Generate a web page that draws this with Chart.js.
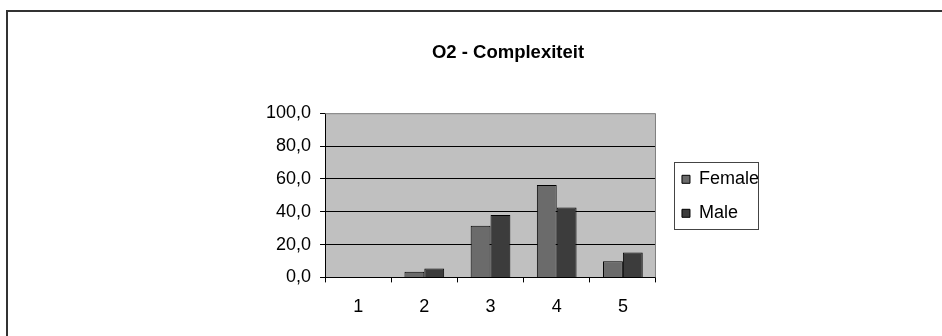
<!DOCTYPE html>
<html>
<head>
<meta charset="utf-8">
<script src="https://cdn.jsdelivr.net/npm/chart.js@4"></script>
<style>
  html, body { margin: 0; padding: 0; background: #fff; }
  #wrap { width: 942px; height: 336px; position: relative; }
</style>
</head>
<body>
<div id="wrap"><canvas id="chart" width="942" height="336"></canvas></div>
<script>
const categories = ['1', '2', '3', '4', '5'];
const femaleValues = [0, 3.4, 31.5, 56.2, 9.9];
const maleValues = [0, 5.4, 38.0, 42.5, 15.2];
const yTicks = [0, 20, 40, 60, 80, 100];

const FONT = "'Liberation Sans', Arial, sans-serif";

// outer frame, plot background, legend box placement and border
const framePlugin = {
  id: 'frame',
  afterLayout(chart) {
    const legend = chart.legend;
    const area = chart.chartArea;
    if (!legend) return;
    // legend sits a little right of the plot, centred on it
    legend.left = area.right + 10;
    legend.right = legend.left + legend.width;
    legend.top = area.top + 1;
    legend.bottom = area.bottom + 1;
    legend.height = legend.bottom - legend.top;
  },
  beforeDraw(chart) {
    const { ctx, chartArea } = chart;
    ctx.save();
    ctx.fillStyle = '#c0c0c0';
    ctx.fillRect(chartArea.left, chartArea.top, chartArea.right - chartArea.left, chartArea.bottom - chartArea.top);
    ctx.restore();
  },
  afterDraw(chart) {
    const { ctx, chartArea } = chart;
    ctx.save();
    ctx.strokeStyle = '#333';
    ctx.lineWidth = 2;
    ctx.strokeRect(7, 11, 960, 360);

    // plot area border (top/right)
    ctx.strokeStyle = '#808080';
    ctx.lineWidth = 1;
    ctx.beginPath();
    ctx.moveTo(chartArea.left, chartArea.top + 0.5);
    ctx.lineTo(chartArea.right - 0.5, chartArea.top + 0.5);
    ctx.lineTo(chartArea.right - 0.5, chartArea.bottom);
    ctx.stroke();

    const hb = chart.legend.legendHitBoxes;
    if (hb && hb.length) {
      const x = Math.round(hb[0].left) - 7.5;
      const y = Math.round(hb[0].top) - 7.5;
      const last = hb[hb.length - 1];
      const bottom = Math.round(last.top + last.height) + 7.5;
      ctx.strokeStyle = '#444';
      ctx.strokeRect(x, y, 84, bottom - y);
    }
    ctx.restore();
  }
};

new Chart(document.getElementById('chart'), {
  type: 'bar',
  data: {
    labels: categories,
    datasets: [
      {
        label: 'Female',
        data: femaleValues,
        backgroundColor: '#6b6b6b',
        borderColor: '#000',
        borderWidth: 1,
        categoryPercentage: 0.6,
        barPercentage: 1.0
      },
      {
        label: 'Male',
        data: maleValues,
        backgroundColor: '#3c3c3c',
        borderColor: '#000',
        borderWidth: 1,
        categoryPercentage: 0.6,
        barPercentage: 1.0
      }
    ]
  },
  options: {
    responsive: false,
    animation: false,
    events: [],
    layout: {
      padding: { left: 257, right: 183, top: 10, bottom: 4 }
    },
    plugins: {
      title: {
        display: true,
        text: 'O2 - Complexiteit',
        color: '#000',
        font: { family: FONT, size: 18.5, weight: 'bold' },
        padding: { top: 32, bottom: 49 }
      },
      legend: {
        display: true,
        position: 'right',
        labels: {
          color: '#000',
          font: { family: FONT, size: 18 },
          boxWidth: 8,
          boxHeight: 8,
          padding: 16
        }
      },
      tooltip: { enabled: false }
    },
    scales: {
      x: {
        offset: true,
        grid: {
          offset: true,
          drawOnChartArea: false,
          drawTicks: true,
          tickLength: 5,
          color: '#000',
          tickColor: '#000'
        },
        border: { color: '#000', width: 1 },
        ticks: {
          color: '#000',
          font: { family: FONT, size: 18 },
          padding: 14
        }
      },
      y: {
        min: 0,
        max: 100,
        afterBuildTicks(scale) {
          scale.ticks = yTicks.map(v => ({ value: v }));
        },
        grid: {
          drawTicks: true,
          tickLength: 5,
          color: ctx => (ctx.tick && ctx.tick.value === 100 ? 'rgba(0,0,0,0)' : '#000'),
          tickColor: '#000'
        },
        border: { color: '#000', width: 1 },
        ticks: {
          color: '#000',
          font: { family: FONT, size: 18 },
          padding: 9,
          callback: v => v.toFixed(1).replace('.', ',')
        }
      }
    }
  },
  plugins: [framePlugin]
});
</script>
</body>
</html>
